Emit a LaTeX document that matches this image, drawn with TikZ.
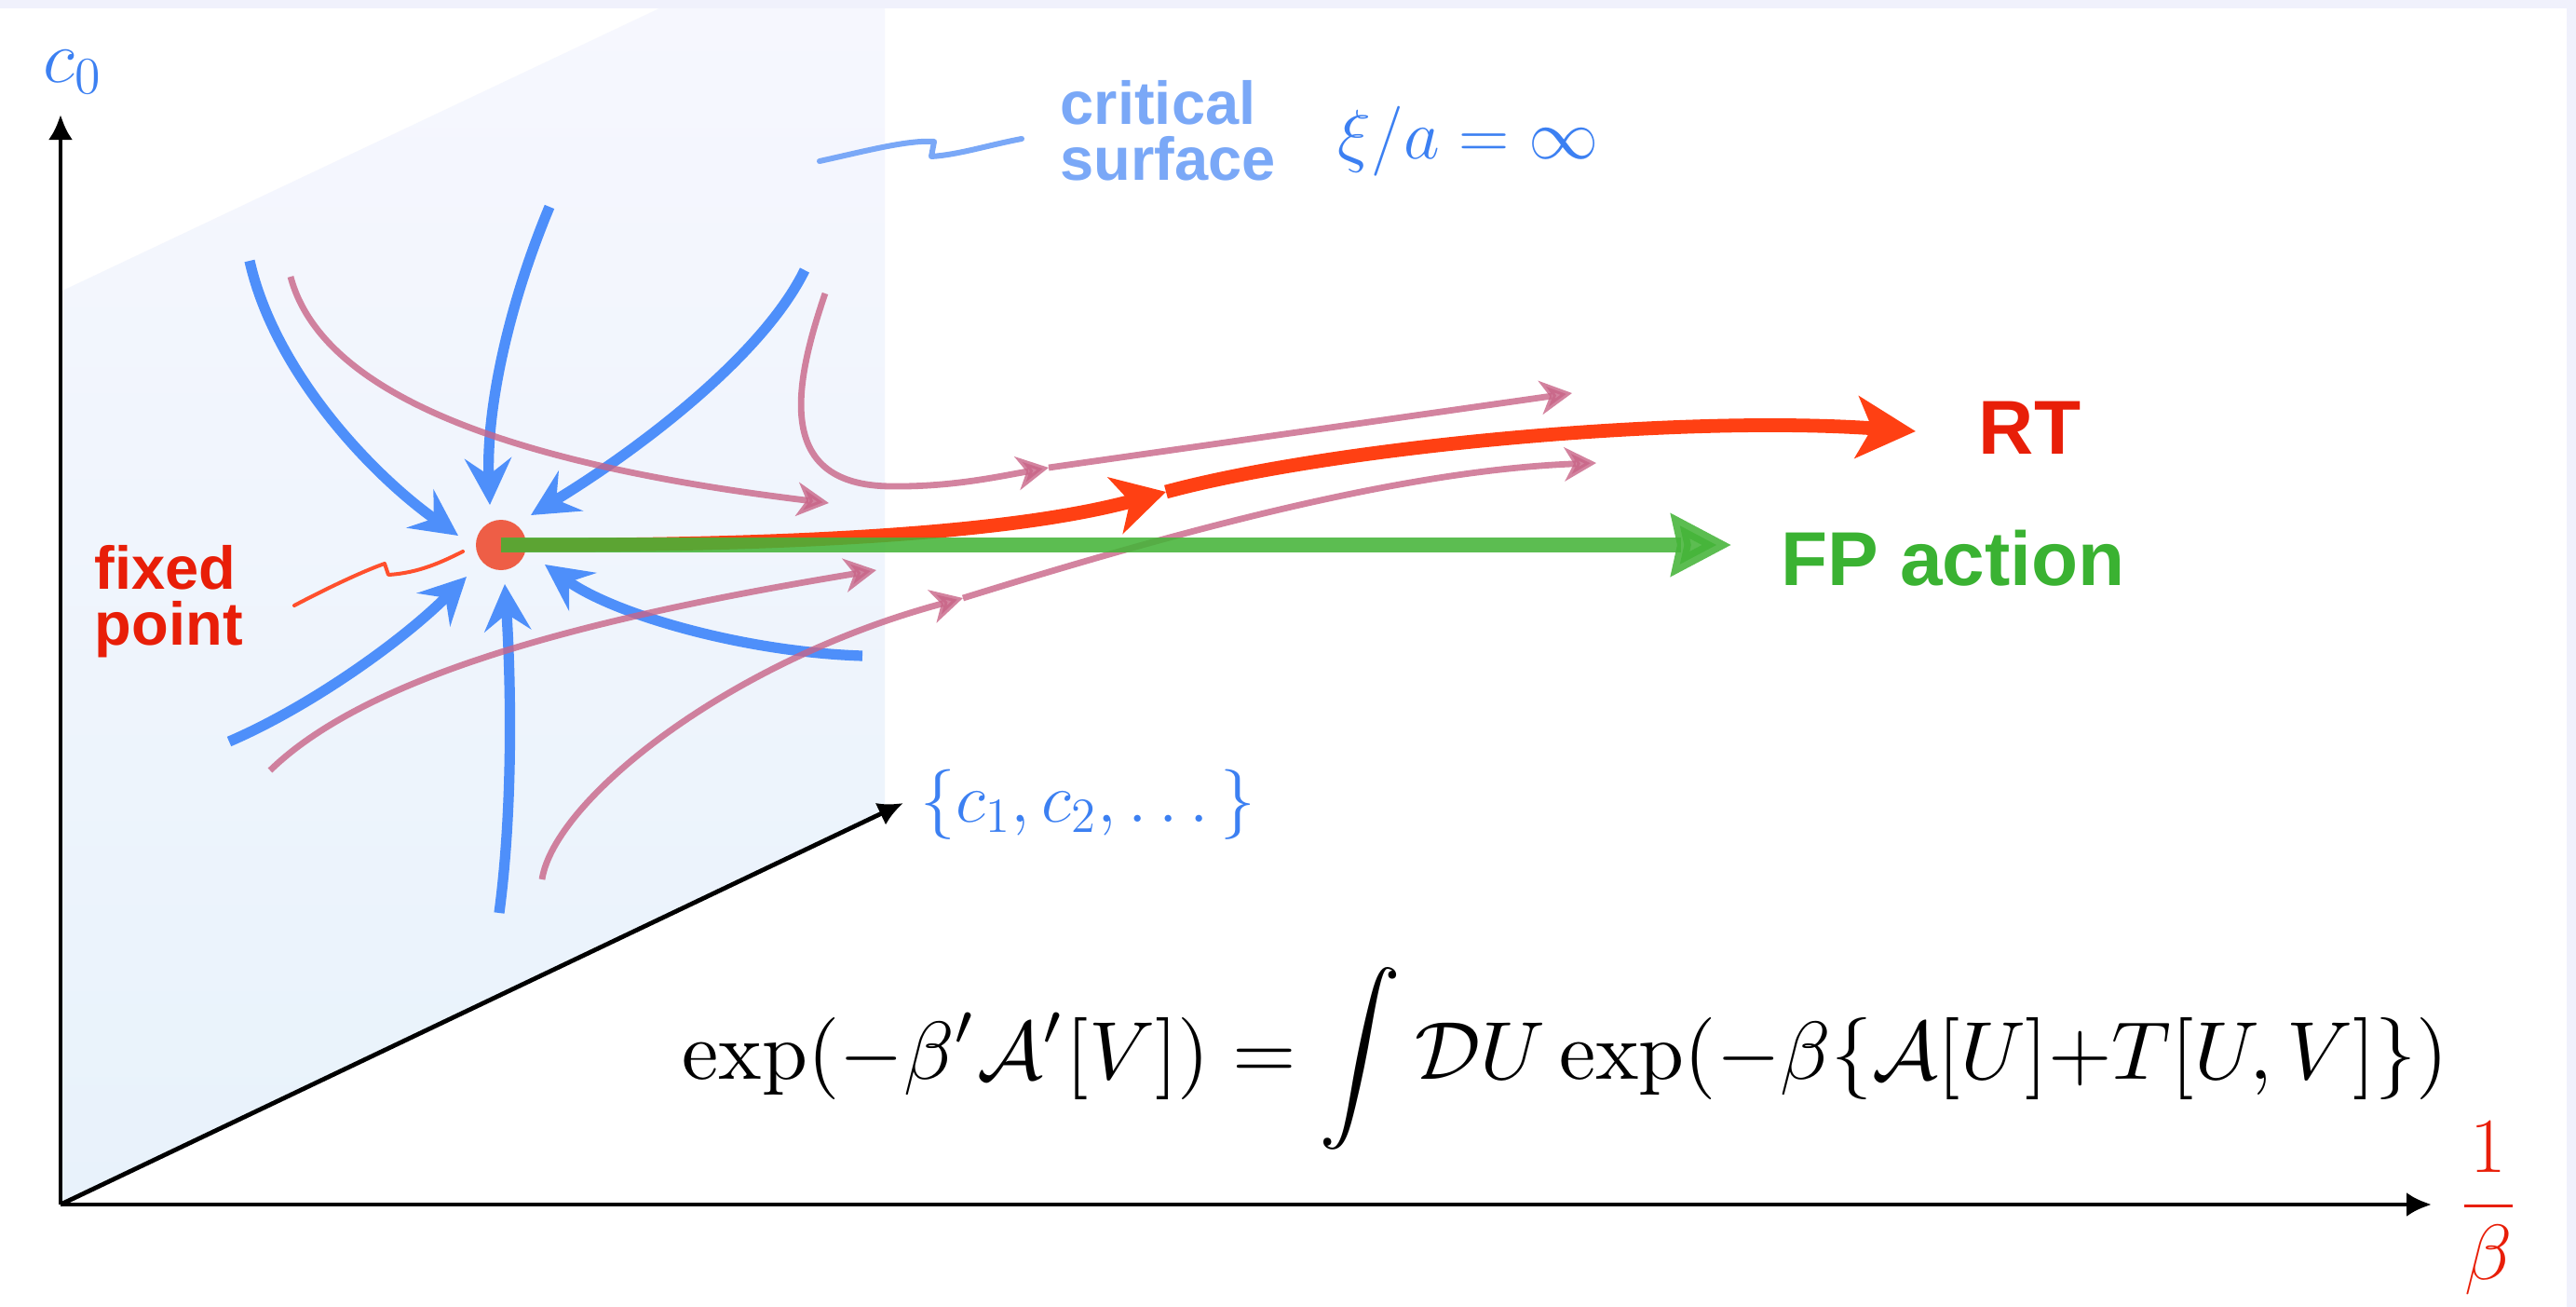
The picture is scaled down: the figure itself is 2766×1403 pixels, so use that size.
\RequirePackage{fix-cm}
\documentclass[tikz,border=0pt]{standalone}
\usepackage{amsmath}
\usepackage{graphicx}
\usepackage{fontspec}
\newfontfamily\hv{Liberation Sans}
\usetikzlibrary{arrows.meta}
\definecolor{bgstrip}{RGB}{240,241,252}
\definecolor{planetop}{RGB}{246,247,254}
\definecolor{planebot}{RGB}{232,242,251}
\definecolor{flowblue}{RGB}{78,143,250}
\definecolor{flowpink}{RGB}{200,100,135}
\definecolor{rtred}{RGB}{255,64,19}
\definecolor{fpred}{RGB}{238,94,70}
\definecolor{txtred}{RGB}{232,30,8}
\definecolor{fpgreen}{RGB}{68,180,56}
\definecolor{txtgreen}{RGB}{58,178,50}
\definecolor{critblue}{RGB}{122,168,247}
\definecolor{mathblue}{RGB}{60,128,242}
\definecolor{sqred}{RGB}{255,80,45}
\begin{document}
\begin{tikzpicture}[x=0.25pt,y=-0.25pt,
  bluearr/.style={draw=flowblue, line width=2.8pt, -{Stealth[length=12.5pt,width=12.5pt,inset=4.5pt]}},
  pinkline/.style={draw=flowpink, opacity=0.8, line width=1.7pt},
  pinkarr/.style={pinkline, -{Stealth[length=8.5pt,width=9pt,inset=2.5pt]}},
  axisarr/.style={draw=black, line width=1.2pt, -{Latex[length=6.75pt,width=6.5pt]}},
  sqblue/.style={draw=critblue, line width=1.5pt, line cap=round, line join=round},
  sqredline/.style={draw=sqred, line width=1pt, line cap=round, line join=round},
  sanslabel/.style={inner sep=0pt, align=left, font=\hv\bfseries\fontsize{16.25pt}{15pt}\selectfont},
  biglabel/.style={inner sep=0pt, font=\hv\bfseries\fontsize{20.5pt}{20pt}\selectfont},
  mathlabel/.style={inner sep=0pt, text=mathblue, font=\fontsize{18.8pt}{20pt}\selectfont}
]
\useasboundingbox (0,0) rectangle (2766,1403);
\fill[white] (0,0) rectangle (2766,1403);
% critical plane
\shade[top color=planetop, bottom color=planebot] (65,1293) -- (65,313) -- (708,9) -- (950,9) -- (950,874) -- cycle;
\fill[bgstrip] (0,0) rectangle (2766,9);
\fill[bgstrip] (2756,0) rectangle (2766,1403);

% axes
\coordinate (O) at (65,1293);
\coordinate (ytip) at (65,123);
\coordinate (xtip) at (2611,1293);
\coordinate (dtip) at (970,862);
\draw[axisarr] (O) -- (ytip);
\draw[axisarr] (O) -- (xtip);
\draw[axisarr] (O) -- (dtip);

% labels of axes
\node[mathlabel, anchor=base west, font=\fontsize{20pt}{22pt}\selectfont] (c0) at (46,88) {$c_0$};
\node[mathlabel, anchor=base west] (cset) at (988,882) {$\{c_1, c_2, \dots\}$};
\node[inner sep=0pt, text=txtred, font=\fontsize{21pt}{22pt}\selectfont] (beta) at (2672,1297) {$\displaystyle\frac{1}{\beta}$};
\node[mathlabel, anchor=base west] (xia) at (1436,170) {$\xi/a = \infty$};

% critical surface label
\node[sanslabel, text=critblue, anchor=north west] (crit) at (1138,86) {critical\\surface};
\coordinate (cs1) at (880,173);
\coordinate (cs2) at (1097,149);
\draw[sqblue] (cs1) .. controls (930,162) and (975,150) .. (1003,152) -- (1000,168) .. controls (1030,166) and (1060,156) .. (cs2);

% fixed point
\node[circle, fill=fpred, minimum size=13.5pt, inner sep=0pt] (fp) at (538,585) {};
\node[sanslabel, text=txtred, anchor=north west] (fplabel) at (101,585) {fixed\\point};
\coordinate (fs1) at (316,650);
\coordinate (fs2) at (497,592);
\draw[sqredline] (fs1) .. controls (350,632) and (390,613) .. (413,605) -- (417,617) .. controls (450,615) and (475,603) .. (fs2);

% blue flows into the fixed point
\coordinate (b1s) at (268,280);  \coordinate (b1e) at (492,575);
\coordinate (b2s) at (590,222);  \coordinate (b2e) at (526,542);
\coordinate (b3s) at (864,290);  \coordinate (b3e) at (570,553);
\coordinate (b4s) at (246,796);  \coordinate (b4e) at (501,619);
\coordinate (b5s) at (536,980);  \coordinate (b5e) at (542,627);
\coordinate (b6s) at (926,704);  \coordinate (b6e) at (585,606);
\draw[bluearr] (b1s) .. controls (295,400) and (400,510) .. (b1e);
\draw[bluearr] (b2s) .. controls (545,330) and (522,440) .. (b2e);
\draw[bluearr] (b3s) .. controls (820,380) and (690,480) .. (b3e);
\draw[bluearr] (b4s) .. controls (330,760) and (430,690) .. (b4e);
\draw[bluearr] (b5s) .. controls (552,860) and (548,720) .. (b5e);
\draw[bluearr] (b6s) .. controls (800,700) and (660,660) .. (b6e);

% pink flows
\coordinate (p1s) at (312,297);  \coordinate (p1e) at (890,540);
\coordinate (p3s) at (290,827);  \coordinate (p3e) at (941,612);
\coordinate (p2s) at (886,315);  \coordinate (p2m) at (1126,502); \coordinate (p2e) at (1688,422);
\coordinate (p4s) at (582,944);  \coordinate (p4m) at (1034,642); \coordinate (p4e) at (1714,497);
\draw[pinkarr] (p1s) .. controls (350,440) and (600,505) .. (p1e);
\draw[pinkarr] (p3s) .. controls (400,720) and (650,660) .. (p3e);
\draw[pinkarr] (p2s) .. controls (850,420) and (835,520) .. (955,522) .. controls (1020,523) and (1070,512) .. (p2m);
\draw[pinkarr] (p2m) -- (p2e);
\draw[pinkarr] (p4s) .. controls (595,860) and (780,710) .. (p4m);
\draw[pinkarr] (p4m) .. controls (1250,575) and (1500,505) .. (p4e);

% RT trajectory
\coordinate (rtm) at (1252,528);
\coordinate (rte) at (2057,463);
\draw[draw=rtred, line width=3.7pt, -{Stealth[length=14pt,width=15.5pt,inset=4pt]}] (fp.center) .. controls (800,586) and (1070,577) .. (rtm);
\draw[draw=rtred, line width=3.7pt, -{Stealth[length=15.75pt,width=16.5pt,inset=4pt]}] (rtm) .. controls (1430,480) and (1800,445) .. (rte);
\node[biglabel, text=txtred, anchor=base west] (rt) at (2124,487) {RT};

% FP action
\coordinate (fpe) at (1859,585);
\draw[draw=fpgreen, opacity=0.87, line width=4.1pt, -{Stealth[length=16pt,width=16.25pt,inset=1.5pt]}] (fp.center) -- (fpe);
\node[biglabel, text=txtgreen, anchor=base west] (fpa) at (1912,628) {FP action};

% blocking equation
\node[inner sep=0pt, anchor=base west] (eq) at (732,1158) {\resizebox{474pt}{!}{$\displaystyle \exp(-\beta'\mathcal{A}'[V]) = \int \mathcal{D}U \exp(-\beta\{\mathcal{A}[U]{+}T[U,V]\})$}};
\end{tikzpicture}
\end{document}
